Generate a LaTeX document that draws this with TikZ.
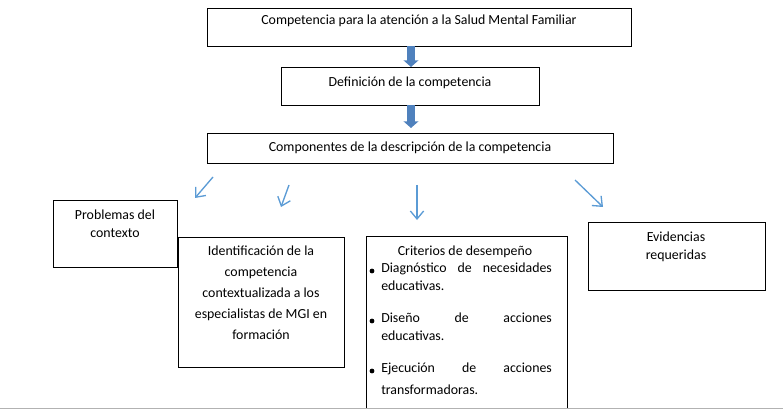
\documentclass[tikz,border=0pt]{standalone}
\usepackage{fontspec}
\setmainfont{Carlito}
\usetikzlibrary{arrows.meta}
\definecolor{fatblue}{RGB}{79,129,189}
\definecolor{thinblue}{RGB}{91,155,213}
\tikzset{
	box/.style={draw=black, line width=0.7pt, fill=white},
	label/.style={font=\fontsize{10.4}{13.5}\selectfont, align=center, inner sep=0pt},
	crit/.style={font=\fontsize{10.4}{13}\selectfont, align=left, text width=128pt, inner sep=0pt, anchor=north west},
	fat/.style={draw=fatblue, line width=5.5pt, -{Triangle[length=5pt, width=11pt]}},
	thinarrow/.style={draw=thinblue, line width=1pt, -{Straight Barb[length=6pt, width=10pt]}}
}
\begin{document}
\begin{tikzpicture}[x=0.75pt, y=-0.75pt]
	\useasboundingbox (0,0) rectangle (783,410);
	% Kaesten
	\draw[box] (207,8) rectangle (631,46);
	\node[label] (top) at (419,21) {Competencia para la atención a la Salud Mental Familiar};
	\draw[box] (281,67) rectangle (539,105);
	\node[label] (def) at (410,83) {Definición de la competencia};
	\draw[box] (207,133) rectangle (613,163);
	\node[label] (comp) at (410,148) {Componentes de la descripción de la competencia};
	\draw[box] (53,200) rectangle (177,267);
	\node[label] (prob) at (115,224) {Problemas del\\contexto};
	\draw[box] (178,237) rectangle (344,367);
	\node[label, font=\fontsize{10.4}{15.8}\selectfont] (ident) at (261,293) {Identificación de la\\competencia\\contextualizada a los\\especialistas de MGI en\\formación};
	\draw[box] (366,236) rectangle (567,408);
	\node[label] (crit) at (465,252) {Criterios de desempeño};
	\draw[box] (588,222) rectangle (765,290);
	\node[label] (evid) at (676,247) {Evidencias\\requeridas};
	% Kriterien
	\foreach \y/\a/\b/\c/\d/\s in {263/Diagnóstico/de/necesidades/educativas./13, 313/Diseño/de/acciones/educativas./13, 363/Ejecución/de/acciones/transformadoras./16}
	{
		\fill (372,\y+8) circle (1.8pt);
		\node[crit, font=\fontsize{10.4}{\s}\selectfont] at (381,\y) {\a\hfill\b\hfill\c\\\d};
	}
	% Pfeile
	\coordinate (a1) at (411,46); \coordinate (a2) at (411,67);
	\coordinate (b1) at (411,105); \coordinate (b2) at (411,128);
	\draw[fat] (a1) -- (a2);
	\draw[fat] (b1) -- (b2);
	\draw[thinarrow] (213,177) -- (195,198);
	\draw[thinarrow] (289,185) -- (281,207);
	\draw[thinarrow] (417,185) -- (417,220);
	\draw[thinarrow] (575,180) -- (603,207);
	% Linie unten
	\draw[gray!60] (0,408) -- (783,408);
\end{tikzpicture}
\end{document}
